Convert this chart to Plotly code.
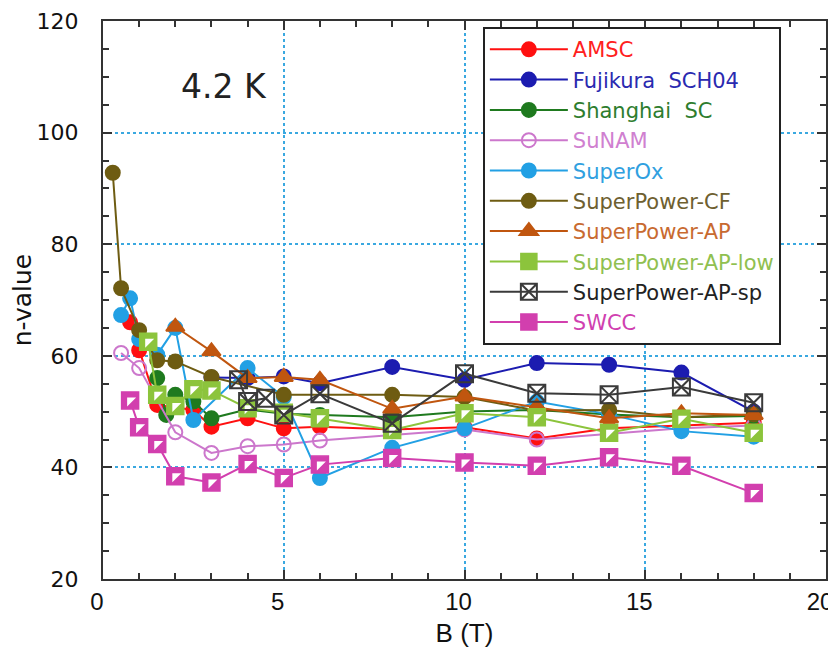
import plotly.graph_objects as go

# ---------------- data ----------------
amsc_B = [0.75, 1, 1.5, 2.5, 3, 4, 5, 6, 8, 10, 12, 14, 16, 18]
amsc_n = [66, 61, 51.2, 50.3, 47.3, 48.8, 47.0, 47.3, 46.8, 47.2, 45.2, 47, 47.5, 48]

fuji_B = [3, 4, 5, 6, 8, 10, 12, 14, 16, 18]
fuji_n = [56.1, 56.0, 56.3, 55.1, 58.0, 55.7, 58.7, 58.4, 57.0, 50.0]

shsc_B = [1.5, 1.75, 2, 2.5, 3, 4, 5, 6, 8, 10, 12, 14, 16, 18]
shsc_n = [56.0, 49.4, 53.0, 51.8, 48.8, 50.4, 49.6, 49.4, 49.0, 50.0, 50.3, 49.5, 49.0, 49.2]

sunam_B = [0.5, 1, 2, 3, 4, 5, 6, 10, 12, 14, 16, 18]
sunam_n = [60.5, 57.8, 46.3, 42.6, 43.8, 44.1, 44.8, 46.8, 45.0, 46.0, 47.0, 47.5]

sox_B = [0.5, 0.75, 1, 1.5, 2, 2.5, 4, 5, 6, 8, 10, 12, 14, 16, 18]
sox_n = [67.3, 70.3, 63.0, 60.2, 65.0, 48.5, 57.8, 52.6, 38.1, 43.5, 47.0, 51.8, 49.5, 46.5, 45.5]

spcf_B = [0.27, 0.5, 1, 1.5, 2, 3, 5, 8, 10, 12, 14, 16, 18]
spcf_n = [92.8, 72.1, 64.6, 59.2, 59.0, 56.2, 53.0, 53.0, 52.6, 50.2, 50.3, 49.0, 49.5]

spap_B = [2, 3, 4, 5, 6, 8, 10, 12, 14, 16, 18]
spap_n = [65.2, 60.8, 56.0, 56.2, 55.7, 50.5, 52.7, 50.8, 48.8, 49.7, 49.4]

splow_B = [1.25, 1.5, 2, 2.5, 3, 4, 5, 6, 8, 10, 12, 14, 16, 18]
splow_n = [62.5, 53.0, 51.0, 54.0, 53.8, 50.6, 49.8, 48.8, 46.7, 49.7, 49.0, 46.2, 48.7, 46.2]

spsp_B = [3.75, 4, 4.5, 5, 6, 8, 10, 12, 14, 16, 18]
spsp_n = [55.7, 51.8, 52.4, 49.4, 53.2, 47.9, 56.8, 53.3, 53.0, 54.4, 51.6]

swcc_B = [0.75, 1, 1.5, 2, 3, 4, 5, 6, 8, 10, 12, 14, 16, 18]
swcc_n = [52.0, 47.2, 44.2, 38.4, 37.3, 40.6, 38.1, 40.5, 41.7, 40.9, 40.3, 41.8, 40.3, 35.4]

x_ticks = [0, 5, 10, 15, 20]
y_ticks = [20, 40, 60, 80, 100, 120]

# ---------------- figure ----------------
series = [
    ("AMSC", amsc_B, amsc_n, "#ff1010", "circle", None),
    ("Fujikura  SCH04", fuji_B, fuji_n, "#1c1cb0", "circle", None),
    ("Shanghai  SC", shsc_B, shsc_n, "#1f7a1f", "circle", None),
    ("SuNAM", sunam_B, sunam_n, "#cc77cc", "circle-open", None),
    ("SuperOx", sox_B, sox_n, "#22a0e4", "circle", None),
    ("SuperPower-CF", spcf_B, spcf_n, "#6e5c12", "circle", None),
    ("SuperPower-AP", spap_B, spap_n, "#c0560f", "triangle-up", None),
    ("SuperPower-AP-low", splow_B, splow_n, "#8cc43c", "square", "triangle-nw"),
    ("SuperPower-AP-sp", spsp_B, spsp_n, "#3a3a3a", "square-x-open", None),
    ("SWCC", swcc_B, swcc_n, "#d23fae", "square", "triangle-nw"),
]

legend_text_colors = {
    "AMSC": "#ff2020", "Fujikura  SCH04": "#2a2ab0", "Shanghai  SC": "#2e7d2e",
    "SuNAM": "#d080d0", "SuperOx": "#30a0e0", "SuperPower-CF": "#6e6030",
    "SuperPower-AP": "#c86a30", "SuperPower-AP-low": "#90c050",
    "SuperPower-AP-sp": "#222222", "SWCC": "#d040b0",
}

fig = go.Figure()
for i, (name, xs, ys, col, sym, half) in enumerate(series):
    size = 14
    if sym.startswith("square"):
        size = 17
    if sym == "triangle-up":
        size = 16
    mline = dict(width=2, color=col)
    if sym == "square":
        mline = dict(width=1.5, color=col)
    fig.add_trace(go.Scatter(
        x=xs, y=ys, mode="lines+markers",
        name=f"<span style='color:{legend_text_colors[name]}'>{name}</span>",
        legendgroup=f"g{i}",
        line=dict(color=col, width=2),
        marker=dict(symbol=sym, size=size, color=col, line=mline),
    ))
    if half:
        fig.add_trace(go.Scatter(
            x=xs, y=ys, mode="markers", showlegend=False, hoverinfo="skip",
            legendgroup=f"g{i}",
            marker=dict(symbol=half, size=10, color="white",
                        line=dict(width=0)),
        ))

fig.add_annotation(x=3.34, y=108.2, xref="x", yref="y", text="4.2 K",
                   showarrow=False,
                   font=dict(family="DejaVu Sans", size=33, color="#222222"))

axis_common = dict(
    showline=True, linecolor="#333333", linewidth=2, mirror="allticks",
    ticks="inside", ticklen=9, tickwidth=2, tickcolor="#333333",
    showgrid=True, gridcolor="#3aa8e0", griddash="dot", gridwidth=1.5,
    zeroline=False, automargin=False,
)

fig.update_xaxes(
    range=[0, 20], tickvals=x_ticks, ticktext=[str(v) for v in x_ticks],
    minor=dict(dtick=1, ticks="inside", ticklen=6, tickwidth=1.5,
               tickcolor="#333333", showgrid=False),
    tickfont=dict(family="Liberation Sans", size=24, color="#111111"),
    ticklabeloverflow="allow", ticklabelshift=-6,
    title=dict(text="B (T)", font=dict(family="Liberation Sans", size=26,
                                       color="#111111"), standoff=10),
    **axis_common,
)
fig.update_yaxes(
    range=[20, 120], tickvals=y_ticks, ticktext=[str(v) for v in y_ticks],
    minor=dict(dtick=5, ticks="inside", ticklen=6, tickwidth=1.5,
               tickcolor="#333333", showgrid=False),
    tickfont=dict(family="DejaVu Sans", size=22, color="#111111"),
    ticklabelstandoff=18,
    title=dict(text="n-value", font=dict(family="DejaVu Sans", size=25,
                                         color="#111111"), standoff=4),
    **axis_common,
)

fig.update_layout(
    width=828, height=650,
    margin=dict(l=95.3, r=10, t=13, b=78.7, autoexpand=False),
    paper_bgcolor="white", plot_bgcolor="white",
    showlegend=True,
    legend=dict(
        x=0.5254, y=0.989, xanchor="left", yanchor="top",
        bgcolor="white", bordercolor="#222222", borderwidth=2,
        font=dict(family="DejaVu Sans", size=21),
        itemwidth=78, tracegroupgap=0,
    ),
)

fig.write_html("out.html")
